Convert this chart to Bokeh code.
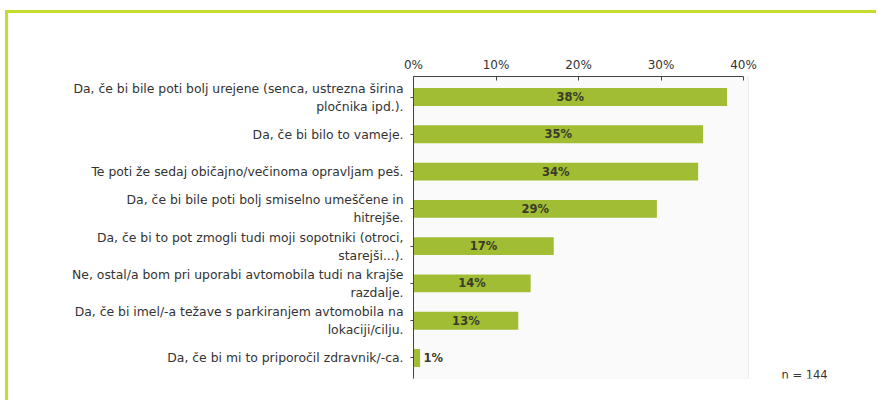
from bokeh.plotting import figure
from bokeh.models import Range1d, FixedTicker, ColumnDataSource
from bokeh.core.properties import value
from bokeh.embed import file_html
from bokeh.resources import INLINE

categories = [
    "Da, če bi bile poti bolj urejene (senca, ustrezna širina\npločnika ipd.).",
    "Da, če bi bilo to vameje.",
    "Te poti že sedaj običajno/večinoma opravljam peš.",
    "Da, če bi bile poti bolj smiselno umeščene in\nhitrejše.",
    "Da, če bi to pot zmogli tudi moji sopotniki (otroci,\nstarejši...).",
    "Ne, ostal/a bom pri uporabi avtomobila tudi na krajše\nrazdalje.",
    "Da, če bi imel/-a težave s parkiranjem avtomobila na\nlokaciji/cilju.",
    "Da, če bi mi to priporočil zdravnik/-ca.",
]
values = [38.0, 35.1, 34.5, 29.5, 17.0, 14.2, 12.7, 0.8]
value_labels = ["38%", "35%", "34%", "29%", "17%", "14%", "13%", "1%"]
x_ticks = [0, 10, 20, 30, 40]
n_text = "n = 144"

W, H = 871, 390
FONT = "DejaVu Sans"
BAR = "#a0bd33"
BORDER = "#c6db30"
X_END = 40.6      # end of the plotted scale area
X_FULL = 52.0     # extra room to the right for the sample-size note
Y0, Y1 = -0.55, 7.55

idx = list(range(len(categories)))
frame_w = int(round(X_FULL * 8.25))
p = figure(width=W, height=H, output_backend="svg", toolbar_location=None,
           x_axis_location="above",
           x_range=Range1d(0, X_FULL), y_range=Range1d(Y1, Y0),
           min_border_left=405, min_border_right=W - 405 - frame_w,
           min_border_top=63, min_border_bottom=H - 63 - 302)
p.styles = {"border-top": f"3px solid {BORDER}", "border-left": f"3px solid {BORDER}",
            "margin-top": "10px", "margin-left": "5px"}
p.background_fill_color = "white"
p.border_fill_color = "white"
p.outline_line_color = None
p.grid.visible = False

# light plot-area panel
p.quad(left=[0], right=[X_END], top=[Y0], bottom=[Y1],
       fill_color="#fafafa", line_color="#ececec", line_width=1)

src = ColumnDataSource(dict(y=idx, v=values, lab=value_labels,
                            xc=[v / 2 if v > 5 else v + 0.4 for v in values],
                            al=["center" if v > 5 else "left" for v in values]))
p.hbar(y="y", left=0, right="v", height=0.48, source=src, color=BAR, line_color=None)
p.text(x="xc", y="y", text="lab", source=src, text_align="al", text_baseline="middle",
       text_font=value(FONT), text_font_size="11.5px", text_font_style="bold",
       text_color="#3a3a2a")

p.text(x=[44.6], y=[7.45], text=[n_text], text_align="left", text_baseline="middle",
       text_font=value(FONT), text_font_size="11.5px", text_color="#333333")

xa = p.xaxis[0]
xa.ticker = FixedTicker(ticks=x_ticks)
xa.bounds = (0, 40)
xa.major_label_overrides = {t: f"{t}%" for t in x_ticks}
xa.minor_tick_line_color = None
xa.major_tick_in = 4
xa.major_tick_out = 0
xa.axis_line_color = "#444444"
xa.major_tick_line_color = "#444444"
xa.major_label_text_font = FONT
xa.major_label_text_font_size = "12px"
xa.major_label_text_color = "#333333"
xa.major_label_standoff = 5

ya = p.yaxis[0]
ya.ticker = FixedTicker(ticks=idx)
ya.major_label_overrides = {i: c for i, c in zip(idx, categories)}
ya.minor_tick_line_color = None
ya.major_tick_in = 0
ya.major_tick_out = 3
ya.axis_line_color = "#444444"
ya.major_tick_line_color = "#444444"
ya.major_label_text_font = FONT
ya.major_label_text_font_size = "12.4px"
ya.major_label_text_color = "#333333"
ya.major_label_standoff = 7

open("out.html", "w").write(file_html(p, INLINE))
